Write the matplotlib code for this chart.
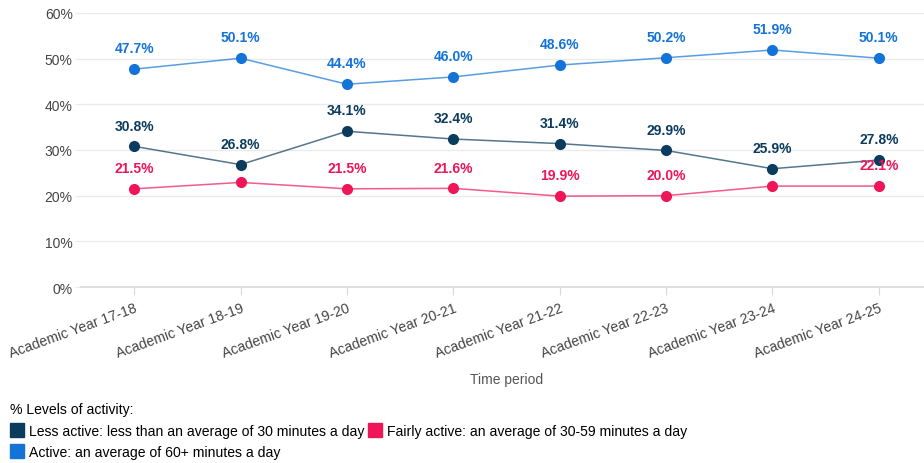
import matplotlib.pyplot as plt
from matplotlib.lines import Line2D
from matplotlib.ticker import FuncFormatter

plt.rcParams["font.family"] = ["Liberation Sans", "DejaVu Sans"]

periods = [
    "Academic Year 17-18", "Academic Year 18-19", "Academic Year 19-20",
    "Academic Year 20-21", "Academic Year 21-22", "Academic Year 22-23",
    "Academic Year 23-24", "Academic Year 24-25",
]
less_active = [30.8, 26.8, 34.1, 32.4, 31.4, 29.9, 25.9, 27.8]
fairly_active = [21.5, 22.9, 21.5, 21.6, 19.9, 20.0, 22.1, 22.1]
active = [47.7, 50.1, 44.4, 46.0, 48.6, 50.2, 51.9, 50.1]

# labels the source chart leaves out (overlaps)
fairly_hidden = {1, 6}

series = [
    ("Less active: less than an average of 30 minutes a day", less_active, "#0b3c5d", set()),
    ("Fairly active: an average of 30-59 minutes a day", fairly_active, "#ee1558", fairly_hidden),
    ("Active: an average of 60+ minutes a day", active, "#1473d6", set()),
]

fig = plt.figure(figsize=(9.24, 4.64), dpi=100)
ax = fig.add_axes([81 / 924, 1 - 288 / 464, 851 / 924, 274 / 464])

x = list(range(len(periods)))
for name, vals, col, hidden in series:
    ax.plot(x, vals, color=col, lw=1.1, alpha=0.7, zorder=2)
    ax.plot(x, vals, "o", color=col, ms=7, zorder=3, ls="none")
    for i, v in enumerate(vals):
        if i in hidden:
            continue
        ax.annotate(f"{v:.1f}%", (i, v), xytext=(0, 15), textcoords="offset points",
                    ha="center", va="center", fontsize=10, fontweight="bold",
                    color=col, zorder=4)

ax.set_xlim(-0.5, len(periods) - 0.5)
ax.set_ylim(0, 60)
ax.set_yticks(range(0, 61, 10))
ax.yaxis.set_major_formatter(FuncFormatter(lambda v, _: f"{v:.0f}%"))
ax.grid(axis="y", color="#ebebeb", lw=1)
ax.set_axisbelow(True)
for s in ["top", "right", "left"]:
    ax.spines[s].set_visible(False)
ax.spines["bottom"].set_color("#d9d9d9")
ax.spines["bottom"].set_linewidth(1.2)
ax.tick_params(axis="y", length=4, color="#ebebeb", labelsize=10, labelcolor="#444444", pad=2)
ax.tick_params(axis="x", length=6, color="#d9d9d9", labelsize=10.2, labelcolor="#444444", pad=4)
ax.set_xticks(x)
ax.set_xticklabels(periods, rotation=20, ha="right", rotation_mode="anchor")

fig.text(507 / 924, 1 - 380 / 464, "Time period", ha="center", va="center",
         fontsize=10, color="#555555")

handles = [Line2D([], [], marker="s", ls="none", color=c, ms=10) for _, _, c, _ in series]
labels = [n for n, _, _, _ in series]
order = [0, 2, 1]
fig.legend([handles[i] for i in order], [labels[i] for i in order],
           loc="upper left", bbox_to_anchor=(0.0, 1 - 393 / 464), ncol=2,
           frameon=False, title="% Levels of activity:", alignment="left",
           fontsize=10.1, title_fontsize=10.1, handletextpad=0.35, handlelength=1.0,
           columnspacing=0.3, labelspacing=0.55, borderaxespad=0.3)

fig.savefig("out.png", dpi=100)
